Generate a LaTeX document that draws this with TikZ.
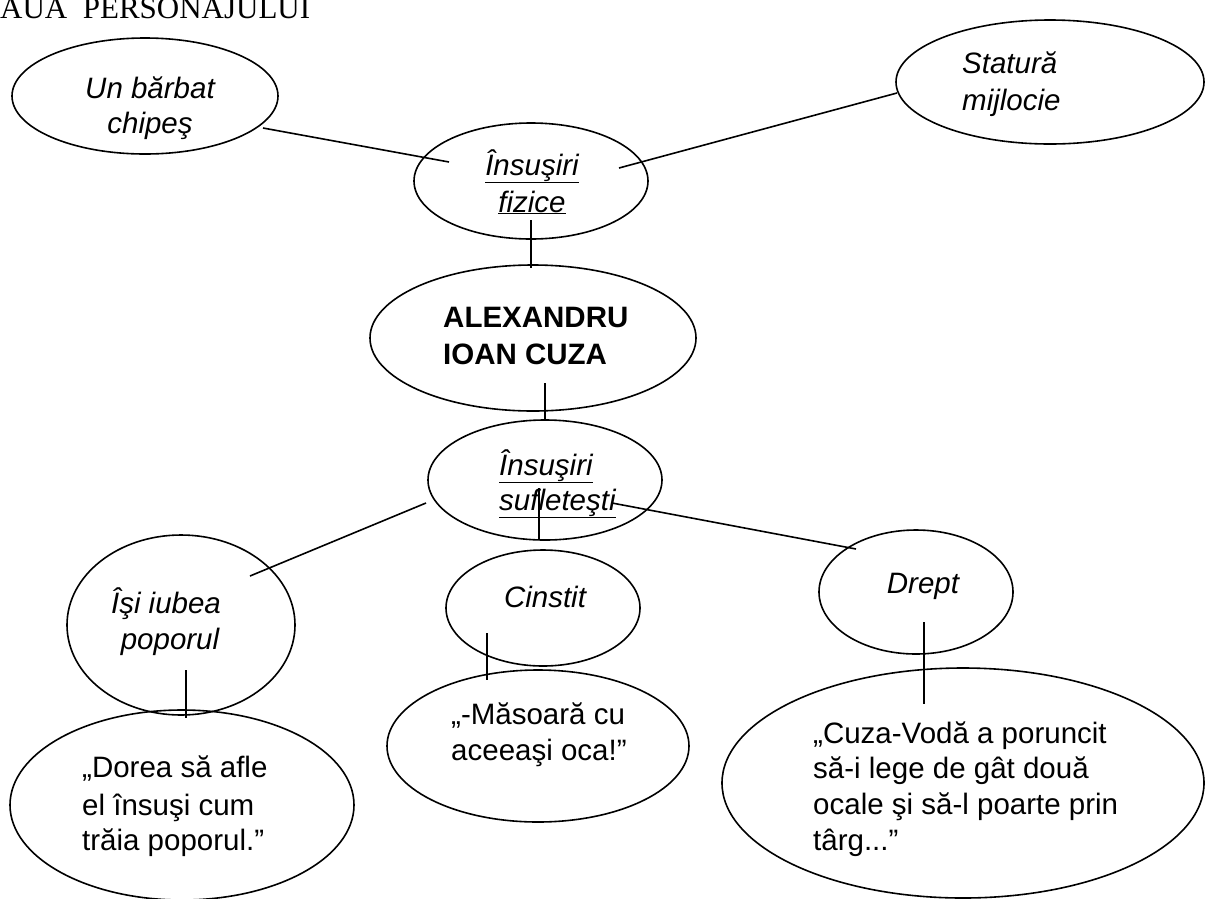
\documentclass[tikz,border=0pt]{standalone}
\usepackage{fontspec}
\setmainfont{Liberation Sans}
\newfontfamily\titlefont{Liberation Serif}
\usetikzlibrary{shapes.geometric}
\begin{document}
\begin{tikzpicture}[x=1pt,y=-1pt,
  oval/.style={draw, ellipse, line width=1.6pt, inner sep=0pt},
  lbl/.style={font=\fontsize{29.5}{36}\selectfont, inner sep=0pt},
  ilbl/.style={font=\fontsize{29.5}{36}\selectfont\itshape, inner sep=0pt},
  blbl/.style={font=\fontsize{29.5}{36}\selectfont\bfseries, inner sep=0pt},
  lnk/.style={line width=1.6pt}]
\useasboundingbox (0,0) rectangle (1205,898);

% title
\node[anchor=base west, inner sep=0pt, font=\titlefont\fontsize{31}{36}\selectfont] (title) at (0,18) {AUA\ \ PERSONAJULUI};

% ellipses
\node[oval, minimum width=266pt, minimum height=116pt] (A) at (145,96) {};
\node[oval, minimum width=308pt, minimum height=124pt] (B) at (1050,82) {};
\node[oval, minimum width=234pt, minimum height=116pt] (C) at (531,181) {};
\node[oval, minimum width=326pt, minimum height=146pt] (D) at (533,338) {};
\node[oval, minimum width=234pt, minimum height=120pt] (E) at (545,480) {};
\node[oval, minimum width=228pt, minimum height=180pt] (F) at (181,625) {};
\node[oval, minimum width=194pt, minimum height=116pt] (G) at (543,608) {};
\node[oval, minimum width=194pt, minimum height=124pt] (H) at (916,592) {};
\node[oval, minimum width=344pt, minimum height=190pt] (I) at (182,805) {};
\node[oval, minimum width=302pt, minimum height=152pt] (J) at (538,746) {};
\node[oval, minimum width=482pt, minimum height=230pt] (K) at (963,783) {};

% texts
\node[ilbl, anchor=base] (tA1) at (150,98) {Un bărbat};
\node[ilbl, anchor=base] (tA2) at (150,133) {chipeş};
\node[ilbl, anchor=base west] (tB1) at (962,73) {Statură};
\node[ilbl, anchor=base west] (tB2) at (962,110) {mijlocie};
\node[ilbl, anchor=base] (tC1) at (532,175) {\underline{Însuşiri}};
\node[ilbl, anchor=base] (tC2) at (532,212) {\underline{fizice}};
\node[blbl, anchor=base west] (tD1) at (443,327) {ALEXANDRU};
\node[blbl, anchor=base west] (tD2) at (443,364) {IOAN CUZA};
\node[ilbl, anchor=base west] (tE1) at (499,475) {\underline{Însuşiri}};
\node[ilbl, anchor=base west] (tE2) at (499,510) {\underline{sufleteşti}};
\node[ilbl, anchor=base] (tF1) at (166,613) {Îşi iubea};
\node[ilbl, anchor=base] (tF2) at (170,649) {poporul};
\node[ilbl, anchor=base] (tG) at (545,607) {Cinstit};
\node[ilbl, anchor=base] (tH) at (923,593) {Drept};
\node[lbl, anchor=base west] (tJ1) at (451,724) {„-Măsoară cu};
\node[lbl, anchor=base west] (tJ2) at (451,760) {aceeaşi oca!”};
\node[lbl, anchor=base west] (tI1) at (82,777) {„Dorea să afle};
\node[lbl, anchor=base west] (tI2) at (82,815) {el însuşi cum};
\node[lbl, anchor=base west] (tI3) at (82,850) {trăia poporul.”};
\node[lbl, anchor=base west] (tK1) at (813,743) {„Cuza-Vodă a poruncit};
\node[lbl, anchor=base west] (tK2) at (813,778) {să-i lege de gât două};
\node[lbl, anchor=base west] (tK3) at (813,814) {ocale şi să-l poarte prin};
\node[lbl, anchor=base west] (tK4) at (813,850) {târg...”};

% connector end points
\coordinate (a1) at (263,128); \coordinate (c1) at (449,162);
\coordinate (c2) at (619,168); \coordinate (b1) at (897,93);
\coordinate (c3) at (531,220); \coordinate (d1) at (531,268);
\coordinate (d2) at (545,383); \coordinate (e1) at (545,421);
\coordinate (e2) at (426,503); \coordinate (f1) at (250,576);
\coordinate (e3) at (539,488); \coordinate (g1) at (539,540);
\coordinate (e4) at (612,503); \coordinate (h1) at (856,549);
\coordinate (f2) at (186,670); \coordinate (i1) at (186,718);
\coordinate (g2) at (487,633); \coordinate (j1) at (487,680);
\coordinate (h2) at (924,622); \coordinate (k1) at (924,704);

\draw[lnk] (a1) -- (c1);
\draw[lnk] (c2) -- (b1);
\draw[lnk] (c3) -- (d1);
\draw[lnk] (d2) -- (e1);
\draw[lnk] (e2) -- (f1);
\draw[lnk] (e3) -- (g1);
\draw[lnk] (e4) -- (h1);
\draw[lnk] (f2) -- (i1);
\draw[lnk] (g2) -- (j1);
\draw[lnk] (h2) -- (k1);
\end{tikzpicture}
\end{document}
